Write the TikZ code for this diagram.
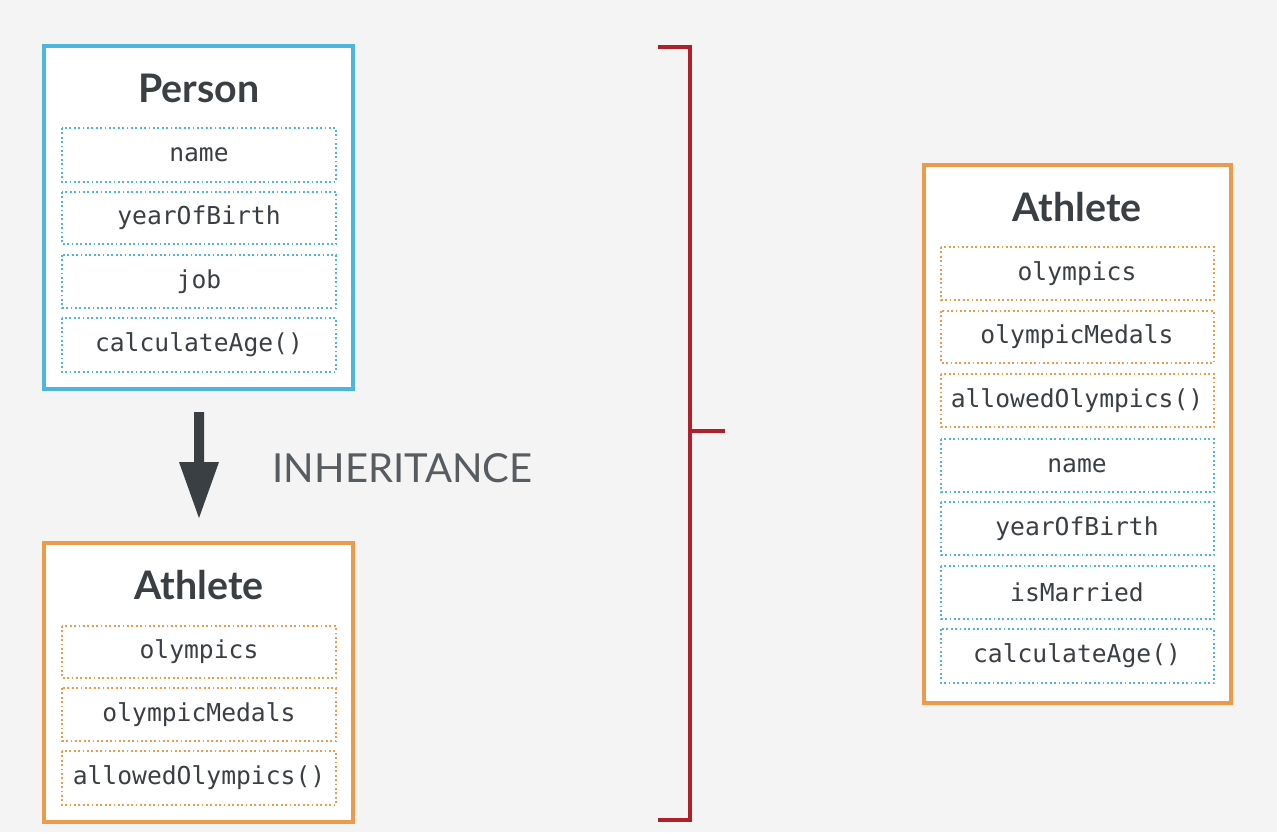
\documentclass[tikz,border=0pt]{standalone}
\usepackage{fontspec}
\setmainfont{Lato}
\setmonofont{DejaVu Sans Mono}
\definecolor{bg}{HTML}{F4F4F4}
\definecolor{pblue}{HTML}{4DB6DE}
\definecolor{porange}{HTML}{EE9A4D}
\definecolor{dred}{HTML}{B0202A}
\definecolor{txt}{HTML}{3A3F44}
\begin{document}
\begin{tikzpicture}[x=0.75pt,y=-0.75pt,
  outerbox/.style={draw=#1,line width=2.3pt,fill=white},
  fieldbox/.style={draw=#1,dotted,line width=1.3pt},
  ttl/.style={font=\fontsize{29.5}{32}\selectfont\bfseries,text=txt},
  fld/.style={font=\ttfamily\fontsize{18.5}{21}\selectfont,text=txt}]
\fill[bg] (0,0) rectangle (1277,832);
\useasboundingbox (0,0) rectangle (1277,832);
% Person
\draw[outerbox=pblue] (44,46) rectangle (353,389);
\node[ttl] (pt) at (199,88) {Person};
\foreach \a/\b/\t/\n in {128/182/name/p1,192/244/yearOfBirth/p2,255/308/job/p3,318/372/calculateAge()/p4}{
  \draw[fieldbox=pblue] (62,\a) rectangle (336,\b);
  \node[fld] (\n) at (199,{(\a+\b)/2}) {\t};}
% Athlete left
\draw[outerbox=porange] (44,543) rectangle (353,822);
\node[ttl] (at) at (199,585) {Athlete};
\foreach \a/\b/\t/\n in {626/678/olympics/a1,688/741/olympicMedals/a2,751/805/allowedOlympics()/a3}{
  \draw[fieldbox=porange] (62,\a) rectangle (336,\b);
  \node[fld] (\n) at (199,{(\a+\b)/2}) {\t};}
% arrow
\coordinate (as) at (199,412);
\coordinate (ae) at (199,518);
\fill[txt] (194,412) -- (204,412) -- (204,462) -- (219,462) -- (ae) -- (179,462) -- (194,462) -- cycle;
\node[font=\fontsize{30}{33}\selectfont,text=txt!85,anchor=west] (inh) at (268,468) {INHERITANCE};
% bracket
\draw[dred,line width=2.3pt] (658,47) -- (690,47) -- (690,820) -- (658,820);
\draw[dred,line width=2.3pt] (690,431) -- (725,431);
% Athlete right
\draw[outerbox=porange] (924,165) rectangle (1231,703);
\node[ttl] (rt) at (1077,207) {Athlete};
\foreach \a/\b/\t/\n/\c in {247/300/olympics/r1/porange,311/363/olympicMedals/r2/porange,374/427/allowedOlympics()/r3/porange,439/492/name/r4/pblue,502/555/yearOfBirth/r5/pblue,566/619/isMarried/r6/pblue,629/683/calculateAge()/r7/pblue}{
  \draw[fieldbox=\c] (941,\a) rectangle (1214,\b);
  \node[fld] (\n) at (1077,{(\a+\b)/2}) {\t};}
\end{tikzpicture}
\end{document}
